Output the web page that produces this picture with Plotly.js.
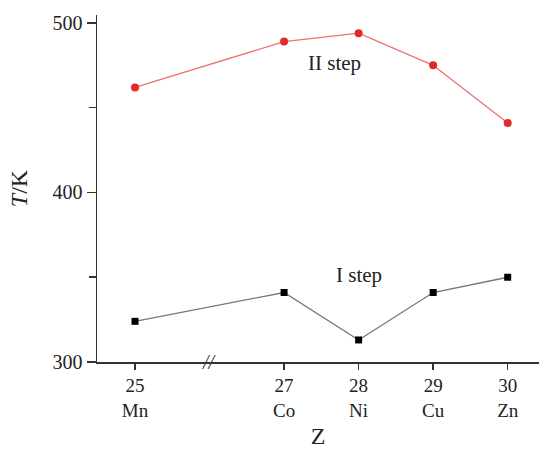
<!DOCTYPE html>
<html><head><meta charset="utf-8">
<script src="https://cdn.plot.ly/plotly-3.0.1.min.js"></script>
<style>body{margin:0;background:#fff}#c{width:539px;height:449px}</style>
</head><body><div id="c"></div>
<script>
var Z = [25, 27, 28, 29, 30];
var elements = ["Mn", "Co", "Ni", "Cu", "Zn"];
var stepII = [462, 489, 494, 475, 441];
var stepI = [324, 341, 313, 341, 350];
var tickText = Z.map(function(z, i){ return z + "<br>" + elements[i]; });

var font = {family: "Liberation Serif, Times New Roman, serif", color: "#222"};
var traces = [
  {x: Z, y: stepII, mode: "lines+markers", line: {color: "#f07070", width: 1.3},
   marker: {color: "#e02a2a", size: 8, symbol: "circle"}, showlegend: false},
  {x: Z, y: stepI, mode: "lines+markers", line: {color: "#777", width: 1.3},
   marker: {color: "#000", size: 7, symbol: "square"}, showlegend: false}
];
var layout = {
  width: 539, height: 449,
  margin: {l: 97, r: 0, t: 15, b: 87},
  paper_bgcolor: "#fff", plot_bgcolor: "#fff",
  font: Object.assign({size: 19}, font),
  xaxis: {range: [24.49, 30.42], tickvals: Z, ticktext: tickText,
    showgrid: false, zeroline: false, showline: true, linecolor: "#333", linewidth: 1.5,
    ticks: "outside", ticklen: 6, tickcolor: "#333", tickwidth: 1.5,
    tickfont: Object.assign({size: 19}, font),
    title: {text: "Z", font: Object.assign({size: 24}, font), standoff: 10}},
  yaxis: {range: [300, 504.7], tickvals: [300, 400, 500],
    showgrid: false, zeroline: false, showline: true, linecolor: "#333", linewidth: 1.5,
    ticks: "outside", ticklen: 9, tickcolor: "#333", tickwidth: 1.5,
    minor: {tickvals: [350, 450], ticks: "outside", ticklen: 7, tickcolor: "#333", tickwidth: 1.5},
    tickfont: Object.assign({size: 20}, font),
    title: {text: "<i>T</i>/K", font: Object.assign({size: 24}, font), standoff: 18}},
  annotations: [
    {x: 27.68, y: 476.5, xref: "x", yref: "y", text: "II step", showarrow: false,
     font: Object.assign({size: 21}, font)},
    {x: 28.0, y: 351.5, xref: "x", yref: "y", text: "I step", showarrow: false,
     font: Object.assign({size: 21}, font)},
    {x: 26, y: 300, xref: "x", yref: "y", text: "<i>//</i>", showarrow: false,
     font: Object.assign({size: 20}, font, {color: "#333"})}
  ]
};
Plotly.newPlot("c", traces, layout, {displayModeBar: false, staticPlot: true});
</script></body></html>
